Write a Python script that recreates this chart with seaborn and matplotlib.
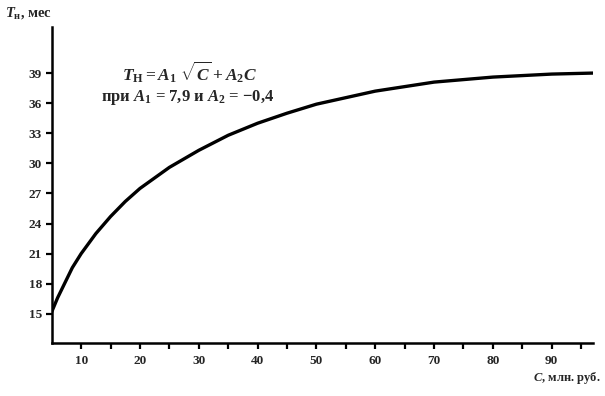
import matplotlib
matplotlib.use("Agg")
import matplotlib.pyplot as plt
import seaborn as sns
import pandas as pd
from matplotlib.ticker import FixedLocator

# Values
cost = [5, 6, 7.5, 8.5, 10, 12.5, 15, 17.5, 20, 25, 30, 35, 40, 45, 50, 60, 70, 80, 90, 97]
period = [15.2, 16.6, 18.4, 19.6, 21.0, 23.0, 24.7, 26.2, 27.5, 29.6, 31.3, 32.8, 34.0, 35.0, 35.9,
          37.2, 38.1, 38.6, 38.9, 39.0]
y_ticks = [15, 18, 21, 24, 27, 30, 33, 36, 39]
x_major = [10, 20, 30, 40, 50, 60, 70, 80, 90]
x_minor = [15, 25, 35, 45, 55, 65, 75, 85, 95]

sns.set_theme(style="white")
plt.rcParams['font.family'] = ['Liberation Serif', 'DejaVu Serif']
plt.rcParams['mathtext.fontset'] = 'custom'
plt.rcParams['mathtext.it'] = 'Liberation Serif:italic:bold'
plt.rcParams['mathtext.rm'] = 'Liberation Serif:bold'
plt.rcParams['mathtext.bf'] = 'Liberation Serif:bold'

df = pd.DataFrame({"C": cost, "T": period})

fig = plt.figure(figsize=(6.05, 3.96), dpi=100)
ax = fig.add_axes([0.0855, 0.134, 0.8945, 0.798])
sns.lineplot(data=df, x="C", y="T", ax=ax, color="black", linewidth=2.4)
ax.lines[0].set_solid_joinstyle("round")

ax.set_xlim(5, 97)
ax.set_ylim(12.1, 43.6)
ax.set_yticks(y_ticks)
ax.set_yticklabels([str(v) for v in y_ticks], fontweight="bold", fontsize=9.5)
ax.set_xticks(x_major)
ax.set_xticklabels([str(v) for v in x_major], fontweight="bold", fontsize=9.5)
ax.xaxis.set_minor_locator(FixedLocator(x_minor))
ax.tick_params(axis="both", which="both", direction="out", length=4, width=1.6, color="black", pad=3)
ax.tick_params(axis="x", which="minor", bottom=True)
ax.tick_params(axis="x", which="major", bottom=True, pad=5)
ax.tick_params(axis="y", which="major", left=True)
for s in ["top", "right"]:
    ax.spines[s].set_visible(False)
for s in ["left", "bottom"]:
    ax.spines[s].set_color("black")
    ax.spines[s].set_linewidth(1.8)
ax.set_xlabel("")
ax.set_ylabel("")

fig.text(0.008, 0.968, r"$T_{\mathrm{н}}$, мес", fontsize=10.5, fontweight="bold", ha="left", va="center")
fig.text(0.992, 0.045, r"$C$, млн. руб.", fontsize=9, fontweight="bold", ha="right", va="center")

ax.text(0.255, 0.858, r"$T_{\mathrm{Н}} = A_1\ \sqrt{C} + A_2 C$", transform=ax.transAxes,
        fontsize=12.5, ha="center", va="center")
ax.text(0.252, 0.778, r"при $A_1$ = 7,9 и $A_2$ = $-$0,4", transform=ax.transAxes,
        fontsize=12, fontweight="bold", ha="center", va="center")

fig.savefig("out.png", dpi=100)
